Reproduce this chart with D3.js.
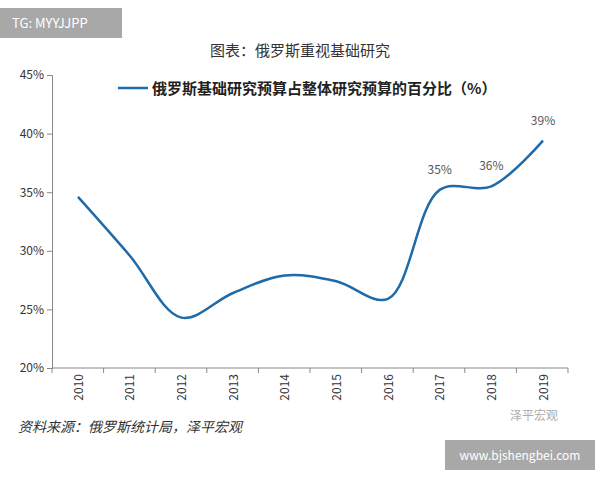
<!DOCTYPE html><html><head><meta charset="utf-8"><script src="https://cdn.jsdelivr.net/npm/d3@7"></script>
<style>body{margin:0;background:#fff}</style></head><body><svg id="c" width="600" height="480"></svg>
<script>
const years=["2010","2011","2012","2013","2014","2015","2016","2017","2018","2019"];
const values=[34.6,29.6,24.3,26.4,27.9,27.4,25.9,35.2,35.5,39.4];
const yTicks=[20,25,30,35,40,45];
const labels=[{i:7,t:"35%"},{i:8,t:"36%"},{i:9,t:"39%"}];
const svg=d3.select("#c");const F="'Noto Sans CJK SC',sans-serif";
svg.append("rect").attr("x",0).attr("y",8).attr("width",122).attr("height",30).attr("fill","#a8a8a8");
svg.append("text").attr("x",12).attr("y",28).attr("fill","#fff").attr("font-family",F).attr("font-size",13).text("TG: MYYJJPP");
svg.append("text").attr("x",300).attr("y",56).attr("text-anchor","middle").attr("font-family",F).attr("font-size",15).attr("fill","#333").text("图表：俄罗斯重视基础研究");
const x=d3.scalePoint().domain(years).range([78,543]);
const y=d3.scaleLinear().domain([20,45]).range([368,75]);
const g=svg.append("g");
g.append("g").attr("transform","translate(52,0)").call(d3.axisLeft(y).tickValues(yTicks).tickFormat(d=>d+"%").tickSize(5))
 .call(a=>{a.select(".domain").attr("stroke","#888");a.selectAll("line").attr("stroke","#888");a.selectAll("text").attr("font-size",12).attr("font-family",F).attr("fill","#333")});
g.append("g").attr("transform","translate(0,368)").call(d3.axisBottom(x).tickSize(0).tickPadding(6))
 .call(a=>{a.select(".domain").attr("stroke","#888").attr("d","M52,0H568");a.selectAll("text").attr("transform","rotate(-90)").attr("text-anchor","end").attr("dx","-6").attr("dy","0.35em").attr("x",0).attr("y",0).attr("font-size",12).attr("font-family",F).attr("fill","#333")});
g.selectAll(".sep").data(d3.range(11)).join("line").attr("x1",d=>52+d*(516/10)).attr("x2",d=>52+d*(516/10)).attr("y1",368).attr("y2",373).attr("stroke","#888");
g.selectAll(".tick text").filter(function(){return this.parentNode.parentNode.getAttribute("transform")==="translate(0,368)"}).attr("transform","rotate(-90)");
const xs=d=>x(d);
g.append("path").datum(values).attr("fill","none").attr("stroke","#1f6aa8").attr("stroke-width",2.5)
 .attr("d",d3.line().x((d,i)=>x(years[i])).y(d=>y(d)).curve(d3.curveCatmullRom));
g.selectAll(".lb").data(labels).join("text").attr("x",d=>x(years[d.i])).attr("y",d=>y(values[d.i])-16).attr("text-anchor","middle").attr("font-family",F).attr("font-size",12).attr("fill","#555").text(d=>d.t);
svg.append("line").attr("x1",118).attr("x2",148).attr("y1",88).attr("y2",88).attr("stroke","#1f6aa8").attr("stroke-width",2.5);
svg.append("text").attr("x",152).attr("y",94).attr("font-family",F).attr("font-size",15).attr("font-weight","bold").attr("fill","#222").text("俄罗斯基础研究预算占整体研究预算的百分比（%）");
svg.append("text").attr("x",18).attr("y",432).attr("font-family",F).attr("font-size",14).attr("font-style","italic").attr("fill","#333").text("资料来源：俄罗斯统计局，泽平宏观");
svg.append("text").attr("x",510).attr("y",420).attr("font-family",F).attr("font-size",12).attr("fill","#999").attr("opacity",0.8).text("泽平宏观");
svg.append("rect").attr("x",445).attr("y",440).attr("width",150).attr("height",30).attr("fill","#a8a8a8");
svg.append("text").attr("x",520).attr("y",460).attr("text-anchor","middle").attr("fill","#fff").attr("font-family",F).attr("font-size",12).text("www.bjshengbei.com");
</script></body></html>
